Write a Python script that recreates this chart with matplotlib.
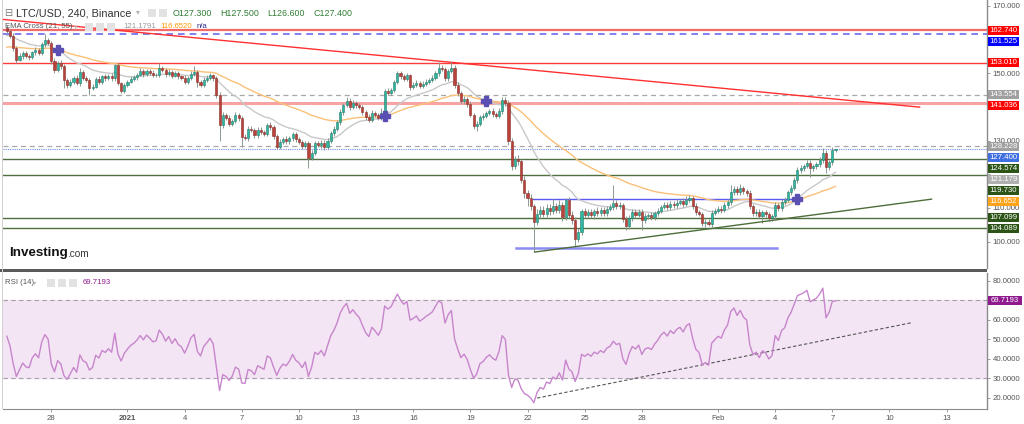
import numpy as np
import pandas as pd
import matplotlib
matplotlib.use("Agg")
import matplotlib.pyplot as plt
import matplotlib.dates as mdates
from matplotlib.patches import Rectangle

plt.rcParams['font.family'] = ['Liberation Sans', 'DejaVu Sans']

W, H = 1024, 424

# ---------------- data ----------------
start_time = "2020-12-25 16:00"
first_open = 163.3
closes = [
    162.5, 161.0, 157.5, 154.0, 155.0, 156.0, 155.0, 154.8, 156.2, 156.8,
    156.0, 158.5, 159.8, 159.0, 153.5, 151.0, 153.0, 152.0, 148.0, 146.5,
    147.5, 148.6, 147.0, 150.3, 148.5, 148.0, 145.5, 146.0, 148.3, 147.5,
    149.0, 148.5, 149.2, 148.4, 152.3, 147.0, 144.8, 146.5, 147.5, 148.3,
    148.8, 149.5, 150.5, 149.6, 150.6, 150.0, 149.3, 149.5, 151.5, 150.8,
    149.6, 150.4, 149.2, 150.0, 149.0, 148.6, 147.5, 148.5, 149.8, 150.3,
    147.5, 146.6, 148.0, 148.6, 149.3, 148.4, 143.5, 134.5, 137.5, 136.8,
    135.0, 135.8, 137.5, 136.8, 131.0, 130.8, 133.5, 133.0, 131.5, 133.2,
    132.6, 132.0, 134.5, 134.0, 131.2, 128.2, 129.5, 130.3, 129.8, 130.6,
    131.8, 130.3, 129.6, 128.3, 129.2, 124.8, 126.4, 129.2, 128.6, 129.4,
    128.0, 130.0, 132.2, 133.5, 135.4, 138.4, 140.4, 141.8, 140.0, 141.2,
    140.4, 139.8, 138.4, 137.0, 136.2, 138.3, 137.6, 136.8, 138.2, 144.8,
    144.2, 145.0, 147.4, 150.0, 149.0, 148.3, 149.3, 146.0, 146.5, 147.2,
    146.3, 146.8, 147.5, 148.0, 148.6, 150.0, 151.6, 151.3, 148.5, 150.5,
    151.6, 146.5, 144.0, 141.6, 142.3, 140.8, 137.6, 134.2, 135.0, 137.0,
    137.4, 138.2, 138.7, 137.8, 137.3, 138.8, 142.0, 141.2, 129.8, 122.5,
    124.6, 123.8, 118.3, 114.4, 113.0, 110.5, 105.8, 108.3, 109.5, 108.3,
    110.0, 109.0, 110.5, 109.4, 110.8, 107.2, 112.2, 108.0, 106.5, 100.8,
    103.0, 109.0, 108.0, 108.8, 107.8, 109.0, 108.4, 109.3, 108.6, 109.8,
    110.2, 111.5, 110.6, 110.9, 106.6, 104.6, 107.0, 108.7, 108.0, 108.9,
    106.3, 107.5, 107.8, 107.3, 108.4, 109.2, 110.3, 110.9, 110.2, 111.3,
    110.8, 111.6, 112.0, 111.3, 112.4, 112.8, 110.7, 108.8, 108.2, 105.6,
    105.9, 105.3, 108.6, 109.2, 109.8, 109.5, 110.9, 111.8, 114.7, 115.6,
    114.6, 115.8, 114.9, 114.5, 110.5, 108.4, 108.8, 107.6, 108.7, 108.2,
    107.0, 107.5, 110.8, 109.9, 111.8, 112.4, 114.6, 116.0, 118.3, 121.3,
    121.8, 122.4, 123.3, 121.8, 122.3, 122.9, 124.2, 126.3, 122.0, 123.6,
    127.3, 127.4,
]
wick_up = [
    1.0, 0.6, 0.8, 0.5, 0.9, 0.7, 0.6, 0.8, 0.5, 0.9,
    0.6, 0.7, 1.7, 0.6, 0.5, 0.9, 0.6, 0.8, 0.7, 0.5,
    0.8, 0.6, 0.9, 1.2, 0.7, 0.5, 0.6, 0.8, 0.6, 0.7,
    0.5, 0.8, 0.6, 0.7, 0.3, 0.6, 0.5, 0.7, 0.6, 0.8,
    0.6, 0.5, 0.9, 0.6, 0.7, 0.5, 0.8, 0.6, 1.5, 0.7,
    0.6, 0.8, 0.5, 0.7, 0.6, 0.5, 0.7, 0.6, 0.8, 1.7,
    0.5, 0.6, 0.7, 0.8, 0.6, 0.5, 0.7, 0.8, 0.9, 0.7,
    0.8, 0.6, 0.9, 0.7, 0.6, 0.8, 0.7, 0.9, 0.6, 0.8,
    0.7, 0.6, 0.8, 0.9, 0.6, 0.7, 0.8, 0.6, 0.9, 0.7,
    0.8, 0.6, 0.7, 0.5, 0.8, 0.6, 0.7, 0.8, 0.6, 0.7,
    0.8, 0.6, 0.7, 0.9, 0.6, 0.8, 0.7, 1.0, 0.8, 0.7,
    0.6, 0.8, 0.7, 0.6, 0.8, 0.7, 0.6, 0.5, 1.3, 0.6,
    0.8, 0.7, 0.6, 0.6, 0.7, 0.8, 0.6, 0.5, 0.8, 0.7,
    0.6, 0.8, 0.7, 0.6, 0.8, 0.7, 1.7, 0.8, 0.6, 0.7,
    1.6, 0.7, 0.8, 0.6, 0.9, 0.7, 0.8, 0.6, 0.9, 0.7,
    0.8, 0.6, 0.7, 0.9, 0.6, 0.8, 0.8, 0.9, 0.7, 0.8,
    0.9, 1.0, 0.8, 1.2, 0.9, 1.0, 0.8, 1.5, 1.2, 1.0,
    1.3, 1.1, 2.0, 1.0, 1.6, 0.9, 0.8, 0.9, 1.0, 0.8,
    0.9, 0.8, 1.1, 0.9, 1.0, 0.8, 1.2, 0.9, 1.0, 0.8,
    0.9, 5.3, 0.8, 1.0, 0.7, 0.9, 0.8, 1.0, 0.9, 0.7,
    0.8, 0.9, 0.7, 1.0, 0.8, 0.9, 0.7, 0.8, 0.9, 0.7,
    0.8, 0.9, 0.7, 0.8, 1.0, 0.9, 0.7, 0.8, 0.6, 0.7,
    0.8, 0.7, 0.9, 0.8, 0.7, 0.9, 0.8, 0.7, 2.2, 0.9,
    0.8, 1.2, 0.7, 0.8, 0.9, 0.7, 0.8, 0.9, 0.7, 0.8,
    0.7, 0.8, 0.9, 0.7, 0.8, 0.9, 0.7, 0.8, 0.9, 0.8,
    0.9, 0.7, 0.9, 0.8, 0.7, 0.8, 0.9, 1.5, 0.8, 0.7,
    0.7, 0.1,
]
wick_dn = [
    0.7, 0.6, 0.8, 0.9, 0.5, 0.7, 0.6, 0.8, 0.5, 0.7,
    0.6, 0.5, 0.7, 0.6, 0.8, 0.9, 0.6, 0.7, 2.5, 0.8,
    0.6, 0.7, 0.5, 0.8, 0.6, 0.7, 2.0, 0.6, 0.5, 0.8,
    0.6, 0.7, 0.5, 0.6, 0.7, 0.5, 0.8, 0.6, 0.7, 0.5,
    0.6, 0.7, 0.5, 0.8, 0.6, 0.7, 0.5, 0.6, 0.7, 0.5,
    0.7, 0.6, 0.8, 0.5, 0.7, 0.6, 0.8, 0.7, 0.5, 0.6,
    1.7, 0.8, 0.6, 0.7, 0.5, 0.6, 0.8, 4.5, 0.9, 0.7,
    0.8, 0.6, 0.7, 0.9, 3.0, 0.7, 0.8, 0.6, 0.9, 0.7,
    0.8, 0.6, 0.7, 0.8, 0.9, 0.8, 0.7, 0.6, 0.8, 0.7,
    0.6, 0.8, 0.7, 0.9, 0.6, 3.0, 0.7, 0.8, 0.6, 0.7,
    0.9, 0.6, 0.7, 0.8, 0.6, 0.7, 0.8, 0.6, 0.9, 0.7,
    0.8, 0.6, 0.7, 0.9, 0.8, 0.7, 0.6, 0.8, 0.7, 0.6,
    0.7, 0.8, 0.6, 0.7, 0.8, 0.6, 0.7, 0.9, 0.6, 0.7,
    0.8, 0.6, 0.7, 0.8, 0.6, 0.7, 0.8, 0.6, 0.9, 0.7,
    0.6, 0.8, 0.9, 0.7, 0.8, 0.9, 0.7, 0.8, 1.4, 0.7,
    0.8, 0.7, 0.6, 0.8, 0.7, 0.6, 0.8, 0.9, 1.0, 1.2,
    1.0, 1.1, 0.9, 1.5, 2.5, 1.2, 8.9, 1.0, 1.2, 1.1,
    0.9, 1.2, 0.8, 1.0, 0.9, 1.1, 0.8, 1.0, 1.2, 2.4,
    0.8, 1.0, 0.9, 1.1, 0.8, 1.0, 0.9, 0.8, 1.0, 0.9,
    0.8, 0.9, 1.0, 0.8, 0.9, 1.3, 0.8, 0.9, 1.0, 0.8,
    2.9, 0.8, 0.9, 1.0, 0.8, 0.9, 0.8, 0.7, 0.9, 0.8,
    0.9, 0.8, 0.7, 0.9, 0.8, 0.7, 0.9, 0.8, 0.7, 0.9,
    1.3, 0.8, 0.9, 0.7, 0.8, 0.9, 0.7, 0.8, 0.9, 0.8,
    0.9, 0.8, 0.7, 0.9, 0.8, 0.9, 0.8, 0.7, 2.0, 0.9,
    0.8, 0.9, 0.7, 0.8, 0.9, 0.8, 0.7, 0.9, 0.8, 0.9,
    0.8, 0.9, 0.7, 2.6, 0.8, 0.9, 0.7, 0.8, 1.5, 0.8,
    0.9, 0.7,
]

ema_fast_len, ema_slow_len = 21, 55
ema_fast_seed, ema_slow_seed = 161.0, 157.5
rsi_len = 14
rsi_seed_gain, rsi_seed_loss = 0.6, 0.5

red_levels = [162.740, 153.010, 141.036]
red_level_widths = [1.6, 1.0, 2.2]
red_level_colors = ["#f46a6a", "#ff3b3b", "#f7a3a3"]
blue_dashed_level = 161.525
grey_dashed_levels = [143.554, 128.228]
last_price = 127.400
green_levels = [124.574, 119.730, 107.099, 104.089]

red_trend_t = ["2020-12-25 08:00", "2021-02-11 14:00"]
red_trend_p = [166.0, 139.9]
green_trend_t = ["2021-01-22 09:00", "2021-02-12 05:00"]
green_trend_p = [96.9, 112.6]
blue_low_t = ["2021-01-21 09:00", "2021-02-04 02:00"]
blue_low_p = 98.2
blue_mid_t = ["2021-01-22 07:00", "2021-02-04 22:00"]
blue_mid_p = 112.55
rsi_trend_t = ["2021-01-22 12:00", "2021-02-11 04:00"]
rsi_trend_v = [19.9, 58.6]

label_texts = ["162.740", "161.525", "153.010", "143.554", "141.036", "128.228",
               "127.400", "124.574", "121.179", "119.730", "116.652", "107.099", "104.089"]
label_values = [162.740, 161.525, 153.010, 143.554, 141.036, 128.228,
                127.400, 124.574, 121.179, 119.730, 116.652, 107.099, 104.089]
label_colors = ["#ff0000", "#0000ff", "#ff0000", "#a0a0a0", "#ff0000", "#a0a0a0",
                "#3f6fe0", "#2b5416", "#b0b0b0", "#2b5416", "#ffa31a", "#2b5416", "#2b5416"]

price_ticks = [100, 110, 120, 130, 140, 150, 160, 170]
price_tick_labels = ["100.000", "110.000", "", "130.000", "", "150.000", "", "170.000"]
rsi_ticks = [20, 30, 40, 50, 60, 70, 80]
rsi_tick_labels = ["20.0000", "30.0000", "40.0000", "50.0000", "60.0000", "", "80.0000"]
rsi_last_text = "69.7193"

ohlc_texts = ["O127.300", "H127.500", "L126.600", "C127.400"]
ema_value_texts = ["121.1791", "116.6520", "n/a"]

date_ticks = ["2020-12-28", "2021-01-01", "2021-01-04", "2021-01-07", "2021-01-10",
              "2021-01-13", "2021-01-16", "2021-01-19", "2021-01-22", "2021-01-25",
              "2021-01-28", "2021-02-01", "2021-02-04", "2021-02-07", "2021-02-10",
              "2021-02-13"]
date_labels = ["28", "2021", "4", "7", "10", "13", "16", "19", "22", "25", "28",
               "Feb", "4", "7", "10", "13"]
x_view = ["2020-12-25 11:10", "2021-02-15 02:50"]
price_view = [92.17, 171.69]
rsi_view = [14.3, 84.1]

# ---------------- derived series ----------------
c = np.array(closes)
o = np.array([first_open] + closes[:-1])
hi = np.maximum(o, c) + np.array(wick_up)
lo = np.minimum(o, c) - np.array(wick_dn)
times = pd.date_range(start_time, periods=len(c), freq="4h")
x = mdates.date2num(times.to_pydatetime())

def ema(vals, n, seed):
    a = 2.0 / (n + 1)
    out, prev = [], seed
    for v in vals:
        prev = a * v + (1 - a) * prev
        out.append(prev)
    return np.array(out)

ema_f = ema(c, ema_fast_len, ema_fast_seed)
ema_s = ema(c, ema_slow_len, ema_slow_seed)

ag, al = rsi_seed_gain, rsi_seed_loss
rsi = []
prev = first_open
for v in c:
    ch = v - prev
    ag = (ag * (rsi_len - 1) + max(ch, 0)) / rsi_len
    al = (al * (rsi_len - 1) + max(-ch, 0)) / rsi_len
    rsi.append(100 - 100 / (1 + ag / al))
    prev = v
rsi = np.array(rsi)

def dn(s):
    return mdates.date2num(pd.Timestamp(s).to_pydatetime())

# ---------------- figure ----------------
fig = plt.figure(figsize=(W / 100, H / 100), dpi=100)
fig.patch.set_facecolor("white")

def px_axes(x0, y0, x1, y1):
    return fig.add_axes([x0 / W, 1 - y1 / H, (x1 - x0) / W, (y1 - y0) / H])

ax = px_axes(3, 0, 987, 268)
ar = px_axes(3, 273, 987, 409)

for a in (ax, ar):
    a.set_facecolor("white")
    for s in ("top", "left", "bottom"):
        a.spines[s].set_visible(False)
    a.spines["right"].set_color("#8c8c8c")
    a.spines["right"].set_linewidth(1.0)
    a.set_xlim(dn(x_view[0]), dn(x_view[1]))
    a.yaxis.tick_right()
    a.tick_params(axis="y", length=2.5, width=0.6, color="#8c8c8c",
                  labelsize=5.6, labelcolor="#555555", pad=1.5)

ax.set_ylim(*price_view)
ar.set_ylim(*rsi_view)
ax.set_xticks([])

ax.set_yticks(price_ticks)
ax.set_yticklabels(price_tick_labels)
ar.set_yticks(rsi_ticks)
ar.set_yticklabels(rsi_tick_labels)

ar.spines["bottom"].set_visible(True)
ar.spines["bottom"].set_color("#8c8c8c")
ar.set_xticks([dn(d) for d in date_ticks])
ar.set_xticklabels(date_labels)
ar.tick_params(axis="x", length=2.5, width=0.6, color="#8c8c8c",
               labelsize=5.6, labelcolor="#555555", pad=2)
for lbl in ar.get_xticklabels():
    if lbl.get_text() == "2021":
        lbl.set_fontweight("bold")

# horizontal levels
xl = ax.get_xlim()
for lv, lw, col in zip(red_levels, red_level_widths, red_level_colors):
    ax.axhline(lv, color=col, lw=lw, zorder=1)
ax.axhline(blue_dashed_level, color="#6b6bf0", lw=1.2, ls=(0, (4, 3)), zorder=1)
for lv in grey_dashed_levels:
    ax.axhline(lv, color="#a8a8a8", lw=0.9, ls=(0, (4, 3)), zorder=1)
ax.axhline(last_price, color="#6f8ff0", lw=0.8, ls=(0, (1, 1)), zorder=1)
for lv in green_levels:
    ax.axhline(lv, color="#50703e", lw=1.0, zorder=1)

# trend lines
ax.plot([dn(t) for t in red_trend_t], red_trend_p, color="#ff3030", lw=1.0, zorder=1)
ax.plot([dn(t) for t in green_trend_t], green_trend_p, color="#4e6e3c", lw=1.0, zorder=4)
ax.plot([dn(t) for t in blue_low_t], [blue_low_p] * 2, color="#8c8cf5", lw=1.8, zorder=1)
ax.plot([dn(t) for t in blue_mid_t], [blue_mid_p] * 2, color="#5a5af0", lw=1.0, zorder=1)

# EMAs
ax.plot(x, ema_f, color="#c8c8c8", lw=1.0, zorder=2)
ax.plot(x, ema_s, color="#fbc078", lw=1.0, zorder=2)
sgn = np.sign(ema_f - ema_s)
cross = np.where(np.diff(sgn) != 0)[0] + 1
ax.plot(x[cross], ema_f[cross], ls="none", marker="P", ms=6.5,
        color="#5a50b4", mec="#5a50b4", zorder=6)

# candles
up = c >= o
width = 0.11
ax.vlines(x, lo, hi, color="#8a9a90", lw=0.7, zorder=3)
body_h = np.where(np.abs(c - o) < 0.15, 0.15, c - o)
ax.bar(x, body_h, bottom=o, width=width,
       color=np.where(up, "#2fb7a1", "#b8433a"),
       edgecolor=np.where(up, "#237a6a", "#8a2e28"), linewidth=0.4, zorder=4)

# RSI pane
ar.axhspan(30, 70, color="#f3e5f4", zorder=0)
ar.axhline(70, color="#a8a0a8", lw=0.8, ls=(0, (4, 3)), zorder=1)
ar.axhline(30, color="#a8a0a8", lw=0.8, ls=(0, (4, 3)), zorder=1)
ar.plot(x, rsi, color="#c785cc", lw=1.0, zorder=3)
ar.plot([dn(t) for t in rsi_trend_t], rsi_trend_v, color="#555555", lw=0.8,
        ls=(0, (3, 2)), zorder=2)

# ---------------- right-axis value boxes ----------------
fig.canvas.draw()
def ypix(a, v):
    return H - a.transData.transform((xl[0], v))[1]

order = np.argsort(-np.array(label_values))
prev_y = -100
for k in order:
    y = max(ypix(ax, label_values[k]), prev_y + 11)
    prev_y = y
    fig.add_artist(Rectangle((988 / W, 1 - (y + 4.5) / H), 31 / W, 9 / H,
                             transform=fig.transFigure, facecolor=label_colors[k],
                             edgecolor="none", zorder=5))
    fig.text(1003.5 / W, 1 - y / H, label_texts[k], color="white", fontsize=5.6,
             ha="center", va="center", zorder=6)

yr = ypix(ar, 70)
fig.add_artist(Rectangle((988 / W, 1 - (yr + 4.5) / H), 34 / W, 9 / H,
                         transform=fig.transFigure, facecolor="#8e1a8e",
                         edgecolor="none", zorder=5))
fig.text(1005 / W, 1 - yr / H, rsi_last_text, color="white", fontsize=5.6,
         ha="center", va="center", zorder=6)

# ---------------- pane separator ----------------
fig.add_artist(Rectangle((0, 1 - 272 / H), 987 / W, 3 / H, transform=fig.transFigure,
                         facecolor="#5a5a5a", edgecolor="none", zorder=5))
fig.add_artist(Rectangle((2 / W, 1 - 409 / H), 1 / W, 409 / H, transform=fig.transFigure,
                         facecolor="#d0d0d0", edgecolor="none", zorder=5))

# ---------------- header texts ----------------
def ftext(px, py, s, **kw):
    fig.text(px / W, 1 - py / H, s, va="center", ha="left", **kw)

def icon(px, py):
    fig.add_artist(Rectangle((px / W, 1 - (py + 4) / H), 8 / W, 8 / H,
                             transform=fig.transFigure, facecolor="#e2e2e2",
                             edgecolor="none", zorder=5))

ftext(4, 13, "⊟", fontsize=7, color="#777777")
ftext(16, 13, "LTC/USD, 240, Binance", fontsize=7.8, color="#333333")
ftext(136, 13, "▾", fontsize=5.5, color="#b0b0b0")
icon(148, 13); icon(159, 13)
for px, s in zip([173, 220, 267, 314], ohlc_texts):
    ftext(px, 13, s, fontsize=6.4, color="#2e7d32")

ftext(5, 27, "EMA Cross (21, 55)", fontsize=5.6, color="#555555")
ftext(74, 27, "▾", fontsize=4.5, color="#b0b0b0")
icon(85, 27); icon(96, 27); icon(107, 27)
ftext(123, 27, ema_value_texts[0], fontsize=5.6, color="#999999")
ftext(160, 27, ema_value_texts[1], fontsize=5.6, color="#ff9800")
ftext(197, 27, ema_value_texts[2], fontsize=5.6, color="#2a2a8a")

ftext(5, 283, "RSI (14)", fontsize=5.6, color="#555555")
ftext(33, 283, "▾", fontsize=4.5, color="#b0b0b0")
icon(47, 283); icon(58, 283); icon(69, 283)
ftext(83, 283, rsi_last_text, fontsize=5.6, color="#8e1a8e")

ftext(9, 253, "Investing", fontsize=9.6, color="#111111", fontweight="bold")
ftext(67, 254, ".com", fontsize=7.2, color="#333333")

fig.savefig("out.png", dpi=100)
